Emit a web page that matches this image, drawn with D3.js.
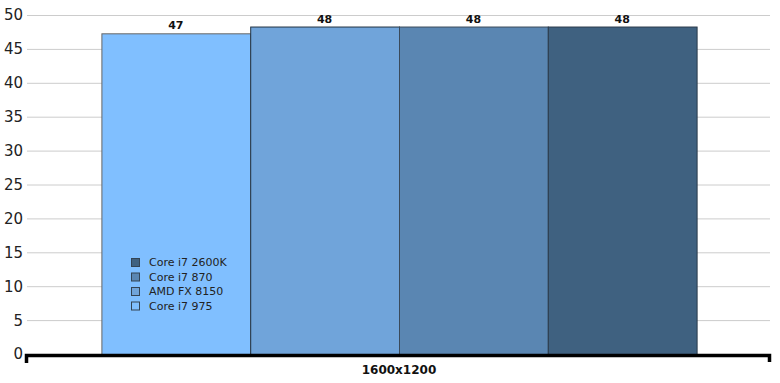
<!DOCTYPE html>
<html>
<head>
<meta charset="utf-8">
<script src="https://cdn.jsdelivr.net/npm/d3@7"></script>
<style>
body { margin: 0; background: #fff; }
</style>
</head>
<body>
<script>
// data
let categories = ["1600x1200"];
let series = ["Core i7 975", "AMD FX 8150", "Core i7 870", "Core i7 2600K"];
let values = [47.3, 48.3, 48.3, 48.3];
let labels = ["47", "48", "48", "48"];
let yTicks = [0, 5, 10, 15, 20, 25, 30, 35, 40, 45, 50];

let colors = ["#80bfff", "#70a4da", "#5a86b2", "#3f6180"];
let strokes = ["#666666", "#223344", "#3a4a5a", "#2a3a4a"];

let margin = {top: 15, right: 9, bottom: 29, left: 27};
let width = 780 - margin.left - margin.right;
let height = 383 - margin.top - margin.bottom;

let svg = d3.select("body").append("svg")
    .attr("width", 780)
    .attr("height", 383)
  .append("g")
    .attr("transform", "translate(" + margin.left + "," + margin.top + ")");

let y = d3.scaleLinear().domain([0, 50]).range([height, 0]);
let x0 = d3.scaleBand().domain(categories).range([0, width]).paddingInner(0).paddingOuter(0.125);
let x1 = d3.scaleBand().domain(series).range([0, x0.bandwidth()]);

// gridlines
svg.append("g")
    .selectAll("line")
    .data(yTicks.filter(d => d > 0))
    .join("line")
      .attr("x1", 0)
      .attr("x2", width - 1)
      .attr("y1", d => y(d) + 0.5)
      .attr("y2", d => y(d) + 0.5)
      .attr("stroke", "#cccccc")
      .attr("stroke-width", 1);

// y axis labels
svg.append("g")
    .selectAll("text")
    .data(yTicks)
    .join("text")
      .attr("x", -4)
      .attr("y", d => y(d))
      .attr("dy", "0.36em")
      .style("text-anchor", "end")
      .style("font-family", "DejaVu Sans, Verdana, sans-serif")
      .style("font-size", "15px")
      .style("fill", "#222")
      .text(d => d);

// bars
let g = svg.append("g")
    .attr("transform", "translate(" + x0(categories[0]) + ",0)");

g.selectAll("rect")
    .data(values)
    .join("rect")
      .attr("x", (d, i) => x1(series[i]) + 0.5)
      .attr("y", d => y(d) + 0.5)
      .attr("width", x1.bandwidth())
      .attr("height", d => height - y(d))
      .attr("fill", (d, i) => colors[i])
      .attr("stroke", (d, i) => strokes[i])
      .attr("stroke-width", 1);

g.selectAll("text.val")
    .data(values)
    .join("text")
      .attr("class", "val")
      .attr("x", (d, i) => x1(series[i]) + x1.bandwidth() / 2)
      .attr("y", d => y(d) - 4)
      .style("text-anchor", "middle")
      .style("font-family", "DejaVu Sans, Verdana, sans-serif")
      .style("font-size", "11px")
      .style("font-weight", "bold")
      .style("fill", "#111")
      .text((d, i) => labels[i]);

// x axis line with end ticks
svg.append("path")
    .attr("d", "M-0.5," + (height + 9) + " V" + (height + 1.5) + " H" + (width - 1.5) + " V" + (height + 8))
    .attr("fill", "none")
    .attr("stroke", "#000")
    .attr("stroke-width", 3.5);

svg.append("text")
    .attr("x", width / 2)
    .attr("y", height + 20)
    .style("text-anchor", "middle")
    .style("font-family", "DejaVu Sans, Verdana, sans-serif")
    .style("font-size", "12px")
    .style("font-weight", "bold")
    .style("fill", "#111")
    .text(categories[0]);

// legend (reverse order)
let legend = svg.append("g")
    .attr("transform", "translate(104,243)");

let legendOrder = series.slice().reverse();
legend.selectAll("rect")
    .data(legendOrder)
    .join("rect")
      .attr("x", 0.5)
      .attr("y", (d, i) => i * 14.5 + 0.5)
      .attr("width", 8)
      .attr("height", 8)
      .attr("fill", d => colors[series.indexOf(d)])
      .attr("stroke", "#334455")
      .attr("stroke-width", 1);

legend.selectAll("text")
    .data(legendOrder)
    .join("text")
      .attr("x", 18)
      .attr("y", (d, i) => i * 14.5 + 4.5)
      .attr("dy", "0.36em")
      .style("font-family", "DejaVu Sans, Verdana, sans-serif")
      .style("font-size", "11px")
      .style("fill", "#222")
      .text(d => d);
</script>
</body>
</html>
